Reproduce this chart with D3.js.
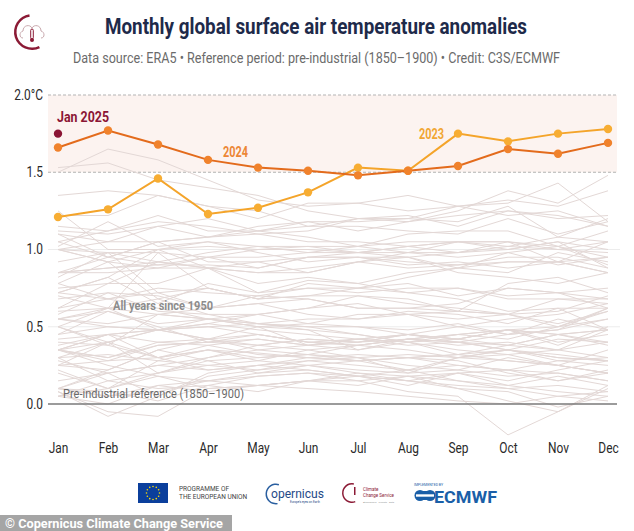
<!DOCTYPE html>
<html><head><meta charset="utf-8">
<script src="https://cdn.jsdelivr.net/npm/d3@7"></script>
<style>
html,body{margin:0;padding:0;background:#fff;}
text{font-family:Roboto,"Noto Sans",sans-serif;}
</style></head>
<body><svg id="c" width="634" height="531"></svg>
<script>
// ---------- data ----------
const months = ["Jan","Feb","Mar","Apr","May","Jun","Jul","Aug","Sep","Oct","Nov","Dec"];
const yTicks = [0, 0.5, 1.0, 1.5, 2.0];
const values2023 = [1.21,1.26,1.46,1.23,1.27,1.37,1.53,1.51,1.75,1.70,1.75,1.78];
const values2024 = [1.66,1.77,1.68,1.58,1.53,1.51,1.48,1.51,1.54,1.65,1.62,1.69];
const valueJan2025 = [1.75];
// all years 1950-2022
const pastYears = [
[0.08,-0.08,0.05,0.18,0.22,0.25,0.20,0.15,0.10,0.02,-0.05,0.12], //1950
[0.05,0.10,0.20,0.30,0.35,0.38,0.40,0.42,0.45,0.48,0.40,0.45],
[0.40,0.38,0.30,0.35,0.33,0.30,0.32,0.30,0.28,0.20,0.15,0.22],
[0.35,0.45,0.48,0.50,0.45,0.40,0.42,0.38,0.40,0.35,0.30,0.28],
[0.22,0.10,0.18,0.15,0.20,0.22,0.18,0.15,0.12,0.10,0.05,0.08],
[0.30,0.15,0.10,0.12,0.18,0.20,0.15,0.18,0.10,0.08,-0.02,0.05],
[0.08,-0.05,-0.08,0.10,0.12,0.15,0.15,0.08,0.05,-0.20,-0.05,0.10],
[0.10,0.20,0.25,0.30,0.38,0.42,0.40,0.45,0.42,0.48,0.50,0.55],
[0.55,0.60,0.50,0.40,0.45,0.40,0.38,0.35,0.30,0.32,0.35,0.30],
[0.35,0.30,0.40,0.38,0.32,0.30,0.28,0.30,0.25,0.22,0.28,0.30],
[0.28,0.20,0.05,0.20,0.25,0.30,0.28,0.30,0.32,0.28,0.25,0.35], //1960
[0.35,0.45,0.40,0.42,0.38,0.35,0.30,0.32,0.30,0.28,0.25,0.20],
[0.30,0.32,0.28,0.35,0.30,0.32,0.28,0.30,0.32,0.35,0.30,0.28],
[0.25,0.40,0.20,0.28,0.30,0.32,0.38,0.42,0.45,0.48,0.45,0.38],
[0.35,0.25,0.18,0.10,0.12,0.10,0.08,0.05,0.02,0.00,0.05,0.02],
[0.10,0.05,0.12,0.08,0.12,0.15,0.12,0.18,0.20,0.22,0.15,0.20],
[0.15,0.20,0.25,0.22,0.25,0.28,0.30,0.25,0.22,0.18,0.20,0.15],
[0.20,0.10,0.28,0.25,0.22,0.28,0.25,0.22,0.30,0.35,0.28,0.25],
[0.10,0.22,0.35,0.28,0.20,0.25,0.22,0.20,0.22,0.30,0.25,0.20],
[0.25,0.22,0.35,0.42,0.45,0.40,0.38,0.42,0.40,0.38,0.45,0.48],
[0.38,0.45,0.30,0.35,0.28,0.25,0.28,0.22,0.25,0.22,0.20,0.15], //1970
[0.10,0.05,0.08,0.15,0.12,0.15,0.20,0.18,0.15,0.12,0.18,0.12],
[0.05,0.15,0.20,0.25,0.28,0.35,0.38,0.42,0.40,0.45,0.48,0.55],
[0.55,0.62,0.58,0.55,0.50,0.48,0.45,0.40,0.35,0.32,0.25,0.20],
[0.05,0.00,0.12,0.15,0.18,0.20,0.18,0.22,0.15,0.10,0.12,0.08],
[0.25,0.28,0.30,0.22,0.25,0.22,0.18,0.15,0.20,0.12,0.08,0.05],
[0.10,0.08,0.02,0.12,0.08,0.15,0.18,0.12,0.20,0.15,0.22,0.28],
[0.30,0.40,0.48,0.50,0.52,0.50,0.45,0.40,0.42,0.38,0.45,0.40],
[0.42,0.45,0.48,0.42,0.35,0.32,0.30,0.20,0.30,0.35,0.42,0.40],
[0.35,0.28,0.38,0.40,0.38,0.42,0.40,0.45,0.50,0.55,0.58,0.65],
[0.55,0.50,0.48,0.55,0.58,0.52,0.50,0.48,0.52,0.45,0.55,0.48], //1980
[0.70,0.62,0.68,0.58,0.52,0.55,0.55,0.58,0.50,0.45,0.48,0.62],
[0.35,0.40,0.30,0.38,0.42,0.38,0.42,0.40,0.45,0.42,0.50,0.60],
[0.68,0.72,0.70,0.62,0.65,0.58,0.55,0.60,0.58,0.52,0.62,0.48],
[0.50,0.40,0.48,0.42,0.50,0.38,0.42,0.45,0.40,0.35,0.32,0.28],
[0.35,0.30,0.38,0.40,0.42,0.38,0.35,0.42,0.38,0.40,0.35,0.40],
[0.45,0.50,0.48,0.52,0.48,0.45,0.42,0.45,0.42,0.48,0.45,0.48],
[0.50,0.62,0.48,0.52,0.58,0.62,0.70,0.65,0.62,0.58,0.60,0.70],
[0.78,0.68,0.75,0.72,0.70,0.68,0.62,0.62,0.60,0.58,0.52,0.60],
[0.45,0.60,0.52,0.55,0.50,0.52,0.58,0.58,0.60,0.58,0.50,0.62],
[0.60,0.62,0.98,0.75,0.68,0.70,0.70,0.68,0.60,0.78,0.82,0.72], //1990
[0.72,0.82,0.65,0.78,0.72,0.80,0.78,0.72,0.68,0.60,0.62,0.62],
[0.72,0.68,0.62,0.55,0.52,0.48,0.35,0.40,0.32,0.38,0.35,0.48],
[0.55,0.52,0.58,0.55,0.52,0.50,0.50,0.45,0.42,0.48,0.38,0.50],
[0.50,0.38,0.58,0.62,0.65,0.68,0.62,0.62,0.65,0.75,0.72,0.68],
[0.82,0.98,0.72,0.75,0.68,0.78,0.75,0.78,0.70,0.75,0.72,0.62],
[0.58,0.72,0.60,0.58,0.58,0.62,0.65,0.58,0.55,0.58,0.68,0.65],
[0.62,0.68,0.72,0.62,0.70,0.75,0.75,0.82,0.88,0.92,0.92,0.95],
[1.02,1.18,1.02,1.05,1.02,0.98,0.98,0.95,0.85,0.82,0.78,0.85],
[0.78,0.92,0.68,0.75,0.68,0.70,0.75,0.72,0.75,0.70,0.72,0.75],
[0.62,0.78,0.78,0.88,0.72,0.75,0.72,0.75,0.75,0.68,0.68,0.68], //2000
[0.75,0.78,0.92,0.88,0.85,0.88,0.92,0.95,0.88,0.85,0.98,0.92],
[1.00,1.05,1.05,0.92,0.92,0.95,0.95,0.90,0.92,0.88,0.92,0.85],
[1.00,0.92,0.88,0.88,0.92,0.85,0.92,0.98,0.98,1.05,0.92,1.05],
[0.92,0.98,0.92,0.88,0.78,0.82,0.78,0.85,0.88,0.98,1.02,0.90],
[1.00,0.92,1.00,1.02,1.00,1.02,1.02,0.98,1.05,1.05,1.00,0.98],
[0.85,0.95,0.90,0.90,0.88,0.95,0.95,0.95,0.98,1.02,1.00,1.05],
[1.25,1.00,1.00,1.05,0.98,0.92,0.95,0.92,0.90,0.92,0.92,0.85],
[0.72,0.82,1.00,0.88,0.85,0.85,0.92,0.88,0.90,0.95,0.95,0.88],
[0.85,0.85,0.88,0.95,0.95,0.98,1.02,1.05,1.05,1.00,1.05,1.00],
[1.05,1.12,1.18,1.15,1.10,1.05,1.05,1.02,0.98,1.00,1.05,0.88], //2010
[0.85,0.88,0.90,0.95,0.88,0.95,0.98,0.98,0.95,0.98,0.90,0.95],
[0.85,0.88,0.92,0.98,1.02,1.02,0.98,1.02,1.05,1.05,1.02,0.95],
[1.00,0.98,0.98,0.95,1.00,1.00,0.98,1.02,1.05,1.02,1.08,1.05],
[1.05,0.95,1.05,1.08,1.12,1.08,1.02,1.10,1.12,1.12,1.02,1.12],
[1.12,1.10,1.15,1.08,1.15,1.18,1.12,1.18,1.25,1.38,1.30,1.48],
[1.50,1.65,1.58,1.45,1.32,1.28,1.30,1.35,1.28,1.22,1.25,1.15],
[1.35,1.38,1.35,1.28,1.25,1.15,1.20,1.22,1.15,1.25,1.20,1.22],
[1.10,1.05,1.15,1.20,1.12,1.15,1.15,1.12,1.10,1.20,1.10,1.18],
[1.22,1.22,1.35,1.28,1.20,1.30,1.30,1.25,1.28,1.32,1.28,1.38],
[1.53,1.56,1.45,1.40,1.35,1.25,1.20,1.20,1.28,1.30,1.43,1.18], //2020
[1.10,0.95,1.05,1.08,1.10,1.12,1.20,1.18,1.22,1.25,1.22,1.15],
[1.15,1.12,1.22,1.12,1.12,1.18,1.18,1.20,1.18,1.28,1.08,1.20]
];

// ---------- chart ----------
const svg = d3.select("#c");
svg.append("rect").attr("width",634).attr("height",531).attr("fill","#fff");

const x = d3.scalePoint().domain(months).range([58, 608]);
const y = d3.scaleLinear().domain([0, 2]).range([404, 95]);
const left = 48, right = 617;

function fit(sel, w){ sel.attr("textLength", w).attr("lengthAdjust","spacingAndGlyphs"); return sel; }
function condense(sel, f){ sel.each(function(){ const w=this.getComputedTextLength(); d3.select(this).attr("textLength", w*f).attr("lengthAdjust","spacingAndGlyphs"); }); }

// shaded band 1.5 - 2.0
svg.append("rect").attr("x",left).attr("width",right-left)
  .attr("y",y(2)).attr("height",y(1.5)-y(2)).attr("fill","#fcf3f0");

// faint grid at 0.5 and 1.0
svg.append("g").selectAll("line").data([0.5,1.0]).join("line")
  .attr("x1",left).attr("x2",right+3).attr("y1",d=>y(d)).attr("y2",d=>y(d))
  .attr("stroke","#ececec").attr("stroke-width",1);
// dashed grid at 1.5 and 2.0
svg.append("g").selectAll("line").data([1.5,2.0]).join("line")
  .attr("x1",left).attr("x2",right).attr("y1",d=>y(d)).attr("y2",d=>y(d))
  .attr("stroke","#b3b3b3").attr("stroke-width",1).attr("stroke-dasharray","3,2");

const line = d3.line().x((d,i)=>x(months[i])).y(d=>y(d));

// past years
svg.append("g").selectAll("path").data(pastYears).join("path")
  .attr("d", line).attr("fill","none").attr("stroke","#e3d8d6").attr("stroke-width",1);

// zero line
svg.append("line").attr("x1",left).attr("x2",right).attr("y1",y(0)).attr("y2",y(0))
  .attr("stroke","#7a7a7a").attr("stroke-width",1.4);

// y axis
const yAxis = svg.append("g").attr("transform",`translate(${left},0)`)
  .call(d3.axisLeft(y).tickValues(yTicks).tickSize(0).tickPadding(5)
    .tickFormat(d => d === 2 ? "2.0°C" : d3.format(".1f")(d)));
yAxis.select(".domain").remove();
yAxis.selectAll("text").attr("font-size",14).attr("fill","#2a2a2a")
  .attr("font-family","Roboto, sans-serif");
condense(yAxis.selectAll("text"), 0.85);

// x axis
const xAxis = svg.append("g").attr("transform",`translate(0,${y(0)})`)
  .call(d3.axisBottom(x).tickSize(0).tickPadding(39));
xAxis.select(".domain").remove();
xAxis.selectAll("text").attr("font-size",14).attr("fill","#2a2a2a")
  .attr("font-family","Roboto, sans-serif");
condense(xAxis.selectAll("text"), 0.85);

// annotations
fit(svg.append("text").attr("x",113).attr("y",310).attr("font-size",12.5).attr("font-weight","bold")
  .attr("fill","#8c8c8c").text("All years since 1950"), 100);
fit(svg.append("text").attr("x",63).attr("y",398).attr("font-size",12.5)
  .attr("fill","#6a6a6a").text("Pre-industrial reference (1850–1900)"), 181);

// 2023
svg.append("path").datum(values2023).attr("d",line).attr("fill","none")
  .attr("stroke","#f4a42a").attr("stroke-width",2);
svg.append("g").selectAll("circle").data(values2023).join("circle")
  .attr("cx",(d,i)=>x(months[i])).attr("cy",d=>y(d)).attr("r",4.2).attr("fill","#f7ad33");
// 2024
svg.append("path").datum(values2024).attr("d",line).attr("fill","none")
  .attr("stroke","#e36b1c").attr("stroke-width",2);
svg.append("g").selectAll("circle").data(values2024).join("circle")
  .attr("cx",(d,i)=>x(months[i])).attr("cy",d=>y(d)).attr("r",4.2).attr("fill","#f0822c");
// Jan 2025
svg.append("g").selectAll("circle").data(valueJan2025).join("circle")
  .attr("cx",(d,i)=>x(months[i])).attr("cy",d=>y(d)).attr("r",4.2).attr("fill","#8b1535");

fit(svg.append("text").attr("x",57).attr("y",122).attr("font-size",15).attr("font-weight","bold")
  .attr("fill","#8b1535").text("Jan 2025"), 52);
fit(svg.append("text").attr("x",223).attr("y",157).attr("font-size",14).attr("font-weight","bold")
  .attr("fill","#ec8636").text("2024"), 25);
fit(svg.append("text").attr("x",419).attr("y",139).attr("font-size",14).attr("font-weight","bold")
  .attr("fill","#f1a634").text("2023"), 25);

// title & subtitle
fit(svg.append("text").attr("x",105).attr("y",34).attr("font-size",22).attr("font-weight","bold")
  .attr("fill","#1e2a4a").text("Monthly global surface air temperature anomalies"), 422);
fit(svg.append("text").attr("x",73).attr("y",63).attr("font-size",14)
  .attr("fill","#6b6b6b").text("Data source: ERA5 • Reference period: pre-industrial (1850–1900) • Credit: C3S/ECMWF"), 487);

// top-left C3S logo
const lg = svg.append("g").attr("transform","translate(32,32)");
lg.append("path").attr("d", d3.arc()({innerRadius:15.5, outerRadius:18, startAngle:-0.15, endAngle:-3.6}))
  .attr("fill","#8b1a35");
lg.append("path").attr("d","M-9,6 C-13,6 -13,0 -9,-1 C-9,-7 -2,-8 0,-4 C2,-8 9,-7 9,-1 C13,0 13,6 9,6")
  .attr("fill","none").attr("stroke","#c9a9ae").attr("stroke-width",1);
lg.append("rect").attr("x",-1.3).attr("y",-3).attr("width",2.6).attr("height",10).attr("rx",1.3)
  .attr("fill","none").attr("stroke","#8b1a35").attr("stroke-width",1);
lg.append("circle").attr("cx",0).attr("cy",8).attr("r",2).attr("fill","#8b1a35");

// bottom logos
const b = svg.append("g");
b.append("rect").attr("x",138).attr("y",483).attr("width",30).attr("height",20).attr("fill","#0b3f9c");
b.append("g").selectAll("circle").data(d3.range(12)).join("circle")
  .attr("cx",d=>153+6.5*Math.cos(d*Math.PI/6)).attr("cy",d=>493+6.5*Math.sin(d*Math.PI/6))
  .attr("r",0.8).attr("fill","#ffdd00");
b.append("text").attr("x",179).attr("y",491).attr("font-size",6.5).attr("fill","#444").text("PROGRAMME OF");
b.append("text").attr("x",179).attr("y",499).attr("font-size",6.5).attr("fill","#444").text("THE EUROPEAN UNION");
// copernicus
b.append("path").attr("d", d3.arc()({innerRadius:9, outerRadius:10.5, startAngle:0.3, endAngle:-3.3}))
  .attr("transform","translate(276,494)").attr("fill","#2a5fa0");
fit(b.append("text").attr("x",271).attr("y",498).attr("font-size",12).attr("fill","#1f4a87").text("opernicus"), 53);
b.append("text").attr("x",290).attr("y",503).attr("font-size",3).attr("fill","#1f4a87").text("Europe's eyes on Earth");
// climate change service
b.append("path").attr("d", d3.arc()({innerRadius:8.5, outerRadius:10, startAngle:0.2, endAngle:-3.5}))
  .attr("transform","translate(352,493)").attr("fill","#8b1a35");
b.append("rect").attr("x",354).attr("y",487).attr("width",1.5).attr("height",8).attr("fill","#8b1a35");
b.append("text").attr("x",363).attr("y",491).attr("font-size",4.5).attr("fill","#8b1a35").text("Climate");
b.append("text").attr("x",363).attr("y",497).attr("font-size",4.5).attr("fill","#8b1a35").text("Change Service");
b.append("text").attr("x",363).attr("y",503).attr("font-size",2.5).attr("fill","#999").text("Atmosphere · Climate · Data");
// ecmwf
b.append("text").attr("x",414).attr("y",486).attr("font-size",3.5).attr("fill","#1a5fa8").text("IMPLEMENTED BY");
b.append("path").attr("d","M419,491 h12 v3 h-12 z M419,497 h12 v3 h-12 z").attr("fill","#1a5fa8");
b.append("circle").attr("cx",420).attr("cy",495.5).attr("r",5.5).attr("fill","#1a5fa8");
b.append("circle").attr("cx",430).attr("cy",495.5).attr("r",5.5).attr("fill","#1a5fa8");
b.append("rect").attr("x",416).attr("y",494.3).attr("width",18).attr("height",2.4).attr("fill","#fff");
fit(b.append("text").attr("x",434).attr("y",503).attr("font-size",17).attr("font-weight","bold")
  .attr("font-family","Liberation Sans, Arial, sans-serif").attr("fill","#1a5fa8").text("ECMWF"), 63);

// footer
svg.append("rect").attr("x",0).attr("y",515).attr("width",232).attr("height",16).attr("fill","#a5a5a5");
fit(svg.append("text").attr("x",5).attr("y",528).attr("font-size",13).attr("font-weight","bold")
  .attr("font-family","Liberation Sans, Arial, sans-serif").attr("fill","#fff")
  .text("© Copernicus Climate Change Service"), 218);
</script></body></html>
